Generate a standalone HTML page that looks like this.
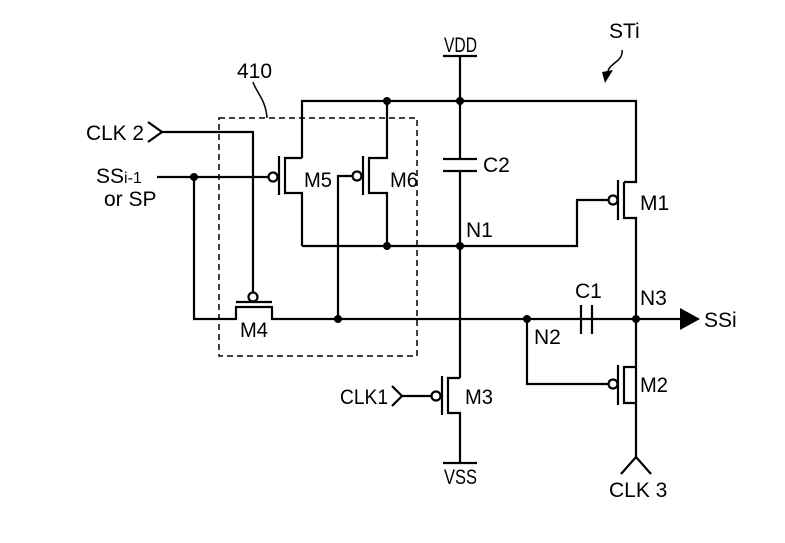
<!DOCTYPE html>
<html><head><style>
html,body{margin:0;padding:0;background:#fff;}
svg{display:block;}
text{font-family:"Liberation Sans",sans-serif;font-size:21px;fill:#000;}
</style></head><body>
<svg width="785" height="543" viewBox="0 0 785 543" xmlns="http://www.w3.org/2000/svg">
<g stroke="#000" stroke-width="2.2" fill="none">
<polyline points="302,158 302,101 636,101 636,182 624,182"/>
<line x1="460" y1="56" x2="460" y2="159"/>
<line x1="443" y1="56" x2="477" y2="56"/>
<line x1="443" y1="159" x2="477" y2="159"/>
<line x1="443" y1="171" x2="477" y2="171"/>
<line x1="460" y1="171" x2="460" y2="378"/>
<polyline points="302,158 285,158 285,193 302,193 302,246"/>
<line x1="279" y1="156" x2="279" y2="195"/>
<circle cx="273" cy="177" r="4.5"/>
<line x1="157" y1="177" x2="268" y2="177"/>
<polyline points="387,101 387,158 369,158 369,193 387,193 387,246"/>
<line x1="363" y1="156" x2="363" y2="195"/>
<circle cx="357" cy="176" r="4.5"/>
<polyline points="352,176 338,176 338,319"/>
<polyline points="302,246 577,246 577,200 609,200"/>
<circle cx="613" cy="200" r="4.5"/>
<line x1="618" y1="180" x2="618" y2="220"/>
<polyline points="624,182 624,218 636,218 636,403"/>
<polyline points="148,122 162,132 148,142"/>
<polyline points="162,132 253,132 253,293"/>
<circle cx="253" cy="297" r="4.5"/>
<line x1="236" y1="302" x2="272" y2="302"/>
<polyline points="194,177 194,319 236,319 236,307 272,307 272,319 636,319"/>
<line x1="581" y1="305" x2="581" y2="334"/>
<line x1="592" y1="305" x2="592" y2="334"/>
<line x1="636" y1="319" x2="680" y2="319"/>
<polyline points="527,319 527,384 608,384"/>
<circle cx="613" cy="384" r="4.5"/>
<line x1="618" y1="365" x2="618" y2="405"/>
<polyline points="636,367 624,367 624,403 636,403 636,457"/>
<polyline points="621,474 636,457 651,474"/>
<polyline points="460,378 448,378 448,413 460,413 460,463"/>
<line x1="442" y1="376" x2="442" y2="415"/>
<circle cx="436" cy="396" r="4.5"/>
<polyline points="392,386 402,396 392,406"/>
<line x1="402" y1="396" x2="431" y2="396"/>
<line x1="443" y1="463" x2="477" y2="463"/>
<rect x="219" y="118" width="198" height="238" stroke-width="1.5" stroke-dasharray="6,4"/>
<path d="M253,82 C256,92 266,100 267,118" stroke-width="1.5"/>
<path d="M622,50 C624,62 606,64 608,74" stroke-width="1.5"/>
</g>
<g fill="#000">
<circle cx="387" cy="101" r="4"/><circle cx="460" cy="101" r="4"/>
<circle cx="387" cy="246" r="4"/><circle cx="460" cy="246" r="4"/>
<circle cx="194" cy="177" r="4"/><circle cx="338" cy="319" r="4"/>
<circle cx="527" cy="319" r="4"/><circle cx="636" cy="319" r="4"/>
<polygon points="680,308 700,319 680,330"/>
<polygon points="602,72 613,70 605,83"/>
</g>
<g>
<text x="444" y="52" textLength="33" lengthAdjust="spacingAndGlyphs">VDD</text>
<text x="483" y="172">C2</text>
<text x="466" y="237">N1</text>
<text x="640" y="210">M1</text>
<text x="304" y="187" textLength="28" lengthAdjust="spacingAndGlyphs">M5</text>
<text x="390" y="187" textLength="28" lengthAdjust="spacingAndGlyphs">M6</text>
<text x="240" y="337" textLength="28" lengthAdjust="spacingAndGlyphs">M4</text>
<text x="465" y="404" textLength="28" lengthAdjust="spacingAndGlyphs">M3</text>
<text x="640" y="392" textLength="28" lengthAdjust="spacingAndGlyphs">M2</text>
<text x="575" y="298">C1</text>
<text x="640" y="305">N3</text>
<text x="534" y="344">N2</text>
<text x="704" y="327">SSi</text>
<text x="609" y="38">STi</text>
<text x="237" y="78">410</text>
<text x="86" y="140" textLength="58" lengthAdjust="spacingAndGlyphs">CLK 2</text>
<text x="96" y="183">SS<tspan font-size="16">i-1</tspan></text>
<text x="104" y="206">or SP</text>
<text x="340" y="404" textLength="48" lengthAdjust="spacingAndGlyphs">CLK1</text>
<text x="444" y="484" textLength="33" lengthAdjust="spacingAndGlyphs">VSS</text>
<text x="609" y="497">CLK 3</text>
</g>
</svg>
</body></html>
